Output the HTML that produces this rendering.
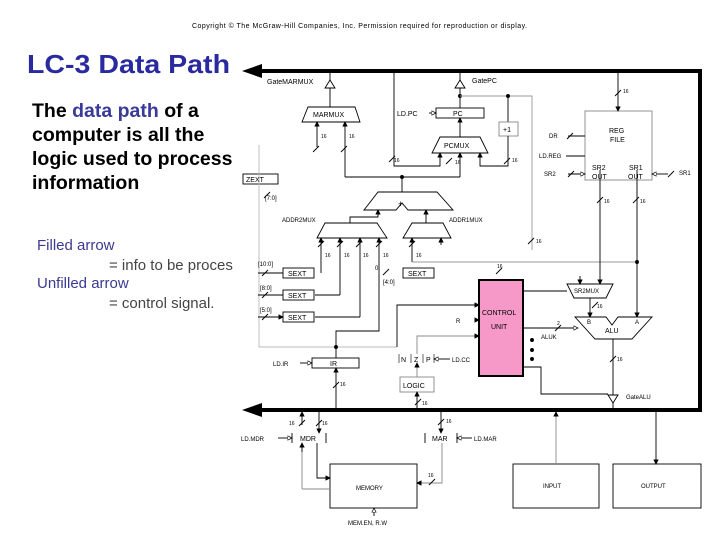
<!DOCTYPE html>
<html><head><meta charset="utf-8"><style>
html,body{margin:0;padding:0;background:#fff;width:720px;height:540px;overflow:hidden}
svg{display:block}
.t{font-family:"Liberation Sans",sans-serif}
</style></head><body>
<svg width="720" height="540" viewBox="0 0 720 540" xmlns="http://www.w3.org/2000/svg" class="t">
<defs>
<marker id="f" markerWidth="6" markerHeight="6" refX="5" refY="3" orient="auto"><path d="M0,0 L6,3 L0,6 z" fill="#000"/></marker>
<marker id="u" markerWidth="6" markerHeight="6" refX="5" refY="3" orient="auto"><path d="M0,0.5 L5,3 L0,5.5 z" fill="#fff" stroke="#000" stroke-width="0.8"/></marker>
</defs>
<text x="192" y="28" font-size="7" textLength="335">Copyright © The McGraw-Hill Companies, Inc. Permission required for reproduction or display.</text>
<text x="27" y="73" font-size="26" font-weight="bold" fill="#2a2aa0" textLength="203" lengthAdjust="spacingAndGlyphs">LC-3  Data Path</text>
<g font-size="19.5" font-weight="bold">
<text x="32" y="117">The <tspan fill="#3a3a9a">data path</tspan> of a</text>
<text x="32" y="141">computer is all the</text>
<text x="32" y="165">logic used to process</text>
<text x="32" y="189">information</text>
</g>
<g font-size="15">
<text x="37" y="250" fill="#3a3a90">Filled arrow</text>
<text x="109" y="270" fill="#444">= info to be proces</text>
<text x="37" y="288" fill="#3a3a90">Unfilled arrow</text>
<text x="109" y="308" fill="#444">= control signal.</text>
</g>

<g fill="none" stroke="#000" stroke-width="1">
<path d="M255,71 H700 V410 H255" stroke-width="4"/>
</g>
<path d="M242,71 L262,64 L262,78 z"/>
<path d="M242,410 L262,403 L262,417 z"/>

<g fill="none" stroke="#000" stroke-width="0.9" font-size="6">
<path d="M330,71 V122"/>
<path d="M325,88 L335,88 L330,80 z" fill="#fff"/>
<path d="M308,107 H355 L360,122 H302 z" fill="#fff"/>
<path d="M317,147 V122" marker-end="url(#f)"/>
<path d="M345,177 V122" marker-end="url(#f)"/>
<path d="M345,177 H460"/>
<circle cx="402" cy="177" r="1.5" fill="#000"/>
<path d="M402,177 V192"/>
<path d="M394,71 V166 H440 V153" marker-end="url(#f)"/>
<path d="M460,71 V108"/>
<path d="M455,88 L465,88 L460,80 z" fill="#fff"/>
<circle cx="460" cy="96" r="1.5" fill="#000"/>
<path d="M460,96 H532 V250" stroke="#999"/>
<circle cx="508" cy="96" r="1.5" fill="#000"/>
<path d="M508,96 V122"/>
<rect x="436" y="108" width="48" height="10" fill="#fff"/>
<rect x="499" y="122" width="19" height="14" fill="#fff" stroke="#888"/>
<path d="M508,136 V166 H480 V153" marker-end="url(#f)"/>
<path d="M460,137 V118" marker-end="url(#f)"/>
<path d="M460,177 V153" marker-end="url(#f)"/>
<path d="M440,137 H480 L488,153 H432 z" fill="#fff"/>
<path d="M429,113 H436" marker-end="url(#u)"/>
<path d="M378,192 H437 L453,210 H408 L402,203 L396,210 H364 z" fill="#fff"/>
<path d="M350,223 V217 H378 V210" marker-end="url(#f)"/>
<path d="M426,223 V210" marker-end="url(#f)"/>
<path d="M325,223 H377 L387,238 H317 z" fill="#fff"/>
<path d="M412,223 H443 L451,238 H403 z" fill="#fff"/>
<path d="M321,273 V238" marker-end="url(#f)"/>
<path d="M340,295 V238" marker-end="url(#f)"/>
<path d="M360,317 V238" marker-end="url(#f)"/>
<path d="M379,264 V238" marker-end="url(#f)"/>
<path d="M379,264 V331 H336 V358"/>
<path d="M412,262 V238" marker-end="url(#f)"/>
<path d="M412,262 H637" stroke="#999"/>
<path d="M441,245 V238" marker-end="url(#f)"/>
<path d="M315,295 H340 M315,317 H360"/>
<rect x="243" y="174" width="35" height="10" fill="#fff"/>
<path d="M259,145 V347 H397" stroke="#bbb"/>
<rect x="283" y="268" width="31" height="10" fill="#fff"/>
<rect x="283" y="290" width="31" height="10" fill="#fff"/>
<rect x="283" y="312" width="31" height="10" fill="#fff"/>
<rect x="403" y="268" width="31" height="10" fill="#fff"/>
<path d="M258,273 H283 M258,295 H283 M258,317 H283" marker-end="url(#f)"/>
<rect x="585" y="111" width="67" height="69" fill="#fff" stroke="#888"/>
<path d="M618,71 V111" marker-end="url(#f)"/>
<path d="M600,170 V284" marker-end="url(#f)"/>
<path d="M637,170 V317" marker-end="url(#f)"/>
<circle cx="637" cy="262" r="1.5" fill="#000"/>
<path d="M568,136 H585 M566,156 H585 M568,174 H585" marker-end="url(#u)"/>
<path d="M668,174 H652" marker-end="url(#u)"/>
<path d="M567,284 H613 L606,298 H574 z" fill="#fff"/>
<path d="M575,317 H606 L612,325 L618,317 H652 L632,339 H595 z" fill="#fff"/>
<path d="M590,298 V317" marker-end="url(#f)"/>
<path d="M580,276 V284" marker-end="url(#f)"/>
<path d="M613,339 V409"/>
<path d="M608,395 L618,395 L613,403 z" fill="#fff"/>
<rect x="479" y="280" width="44" height="96" fill="#f799c8" stroke-width="2"/>
<path d="M523,291 H567 M523,328 H578" marker-end="url(#u)"/>
<path d="M523,367 H541 V394 H608"/>
<path d="M397,347 V305 H479" marker-end="url(#f)"/>
<path d="M417,354 V336 H479" stroke="#888" marker-end="url(#f)"/>
<path d="M463,320 H479" stroke="none" marker-end="url(#f)"/>
<circle cx="532" cy="340" r="1.5" fill="#000"/><circle cx="532" cy="350" r="1.5" fill="#000"/><circle cx="532" cy="359" r="1.5" fill="#000"/>
<rect x="312" y="358" width="47" height="10" fill="#fff"/>
<path d="M336,409 V368" marker-end="url(#f)"/>
<circle cx="336" cy="347" r="1.5" fill="#000"/>
<path d="M300,363 H312" marker-end="url(#u)"/>
<path d="M399,354 V363 M411,354 V363 M423,354 V363 M434,354 V363" stroke="#555"/>
<path d="M450,359 H434" marker-end="url(#u)"/>
<rect x="400" y="377" width="34" height="15" fill="#fff" stroke="#888"/>
<path d="M417,377 V363" stroke="#888" marker-end="url(#f)"/>
<path d="M417,409 V392" marker-end="url(#f)"/>
<path d="M302,425 V412" marker-end="url(#f)"/>
<path d="M319,412 V433" marker-end="url(#f)"/>
<path d="M292,433 V443 M326,433 V443 M425,433 V443 M457,433 V443" />
<path d="M278,438 H292" marker-end="url(#u)"/>
<path d="M472,438 H457" marker-end="url(#u)"/>
<path d="M441,412 V433" marker-end="url(#f)"/>
<rect x="330" y="464" width="87" height="44" fill="#fff"/>
<path d="M302,489 H330 M302,489 V443" stroke="#888"/>
<path d="M302,452 V443" marker-end="url(#f)"/>
<path d="M317,443 V478 H330" marker-end="url(#f)"/>
<path d="M442,443 V483 H417" stroke="#888" marker-end="url(#f)"/>
<path d="M374,516 V508" marker-end="url(#u)"/>
<rect x="513" y="464" width="86" height="44" fill="#fff"/>
<path d="M556,464 V412" stroke="#888" marker-end="url(#f)"/>
<rect x="613" y="464" width="88" height="44" fill="#fff"/>
<path d="M656,412 V464" marker-end="url(#f)"/>
<path d="M313,152 l6,-6 M341,152 l6,-6 M389,162 l6,-6 M446,164 l6,-6 M504,164 l6,-6 M615,96 l6,-6 M597,203 l6,-6 M633,203 l6,-6 M528,244 l6,-6 M318,247 l6,-6 M337,247 l6,-6 M356,247 l6,-6 M376,247 l6,-6 M409,247 l6,-6 M264,198 l6,-6 M262,276 l6,-6 M262,298 l6,-6 M262,320 l6,-6 M383,275 l6,-6 M496,274 l6,-6 M592,308 l6,-6 M555,331 l6,-6 M610,362 l6,-6 M333,388 l6,-6 M415,405 l6,-6 M299,426 l6,-6 M316,426 l6,-6 M438,425 l6,-6 M429,485 l6,-6 M567,139 l6,-6 M568,177 l6,-6 M668,177 l6,-6"/>
</g>

<g font-size="7" fill="#000">
<text x="267" y="84">GateMARMUX</text>
<text x="472" y="83">GatePC</text>
<text x="313" y="117">MARMUX</text>
<text x="453" y="116">PC</text>
<text x="397" y="116">LD.PC</text>
<text x="503" y="132">+1</text>
<text x="444" y="148">PCMUX</text>
<text x="398" y="207" font-size="9">+</text>
<text x="282" y="222" font-size="6">ADDR2MUX</text>
<text x="449" y="222" font-size="6">ADDR1MUX</text>
<text x="246" y="182">ZEXT</text>
<text x="265" y="200" font-size="6">[7:0]</text>
<text x="288" y="276">SEXT</text>
<text x="288" y="298">SEXT</text>
<text x="288" y="320">SEXT</text>
<text x="408" y="276">SEXT</text>
<text x="258" y="266" font-size="6">[10:0]</text>
<text x="260" y="290" font-size="6">[8:0]</text>
<text x="260" y="312" font-size="6">[5:0]</text>
<text x="383" y="284" font-size="6">[4:0]</text>
<text x="375" y="270" font-size="6">0</text>
<text x="609" y="133">REG</text>
<text x="610" y="142">FILE</text>
<text x="549" y="138" font-size="6">DR</text>
<text x="539" y="158" font-size="6">LD.REG</text>
<text x="544" y="176" font-size="6">SR2</text>
<text x="592" y="170">SR2</text><text x="592" y="179">OUT</text>
<text x="629" y="170">SR1</text><text x="628" y="179">OUT</text>
<text x="679" y="175" font-size="6">SR1</text>
<text x="574" y="293" font-size="6">SR2MUX</text>
<text x="587" y="324" font-size="6">B</text>
<text x="635" y="324" font-size="6">A</text>
<text x="605" y="333">ALU</text>
<text x="541" y="339" font-size="6">ALUK</text>
<text x="626" y="399" font-size="6">GateALU</text>
<text x="482" y="315" font-size="7">CONTROL</text>
<text x="491" y="329" font-size="7">UNIT</text>
<text x="456" y="323" font-size="6">R</text>
<text x="330" y="366">IR</text>
<text x="273" y="366" font-size="6">LD.IR</text>
<text x="401" y="362">N</text><text x="414" y="362">Z</text><text x="426" y="362">P</text>
<text x="452" y="362" font-size="6">LD.CC</text>
<text x="403" y="388">LOGIC</text>
<text x="300" y="441">MDR</text>
<text x="432" y="441">MAR</text>
<text x="241" y="441" font-size="6">LD.MDR</text>
<text x="474" y="441" font-size="6">LD.MAR</text>
<text x="356" y="490" font-size="6">MEMORY</text>
<text x="348" y="525" font-size="6">MEM.EN, R.W</text>
<text x="543" y="488" font-size="6">INPUT</text>
<text x="641" y="488" font-size="6">OUTPUT</text>
</g>
<g font-size="5" fill="#000">
<text x="321" y="138">16</text><text x="349" y="138">16</text><text x="394" y="162">16</text><text x="455" y="164">16</text><text x="512" y="162">16</text>
<text x="623" y="93">16</text><text x="604" y="203">16</text><text x="640" y="203">16</text><text x="536" y="243">16</text>
<text x="325" y="257">16</text><text x="344" y="257">16</text><text x="363" y="257">16</text><text x="383" y="257">16</text><text x="416" y="257">16</text>
<text x="497" y="268">16</text><text x="597" y="308">16</text><text x="557" y="325">2</text><text x="617" y="361">16</text>
<text x="340" y="386">16</text><text x="422" y="405">16</text><text x="289" y="425">16</text><text x="322" y="425">16</text><text x="446" y="423">16</text><text x="428" y="477">16</text>
</g>
</svg>
</body></html>
